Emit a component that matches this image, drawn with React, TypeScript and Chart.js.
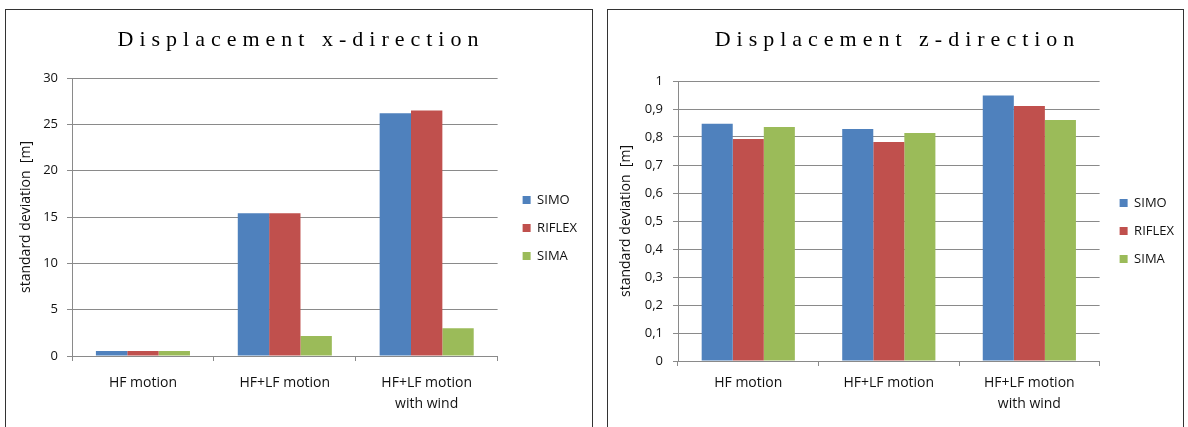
import React, { useEffect, useRef } from 'react';
import { Chart, registerables } from 'chart.js';

Chart.register(...registerables);

// ---------- data ----------
const categories: (string | string[])[] = ['HF motion', 'HF+LF motion', ['HF+LF motion', 'with wind']];
const seriesNames = ['SIMO', 'RIFLEX', 'SIMA'];
const seriesColors = ['#4F81BD', '#C0504D', '#9BBB59'];

const xSimo = [0.55, 15.4, 26.2];
const xRiflex = [0.55, 15.4, 26.5];
const xSima = [0.55, 2.15, 3.0];

const zSimo = [0.847, 0.829, 0.948];
const zRiflex = [0.793, 0.782, 0.911];
const zSima = [0.836, 0.814, 0.861];

const xTickLabels = ['0', '5', '10', '15', '20', '25', '30'];
const zTickLabels = ['0', '0,1', '0,2', '0,3', '0,4', '0,5', '0,6', '0,7', '0,8', '0,9', '1'];

const titleX = 'Displacement x-direction';
const titleZ = 'Displacement z-direction';
const yTitle = 'standard deviation  [m]';

// ---------- styling ----------
const gridColor = '#8a8a8a';
const textColor = '#111111';
const sansFont = '"Open Sans"';

interface Layout {
  width: number;
  height: number;
  padTop: number;
  padBottom: number;
  padRight: number;
  yAxisWidth: number;
  xAxisHeight: number;
  gapRight: number;
  yTitlePad: number;
  yTickPad: number;
  xTickPad: number;
  legendShift: number;
}

function buildConfig(values: number[][], yMax: number, step: number, tickLabels: string[], L: Layout): any {
  return {
    type: 'bar',
    data: {
      labels: categories,
      datasets: values.map((v, i) => ({
        label: seriesNames[i],
        data: v,
        backgroundColor: seriesColors[i],
        borderWidth: 0,
        barPercentage: 1,
        categoryPercentage: 0.663,
        yAxisID: 'y',
      })),
    },
    options: {
      responsive: false,
      animation: false,
      devicePixelRatio: 1,
      layout: { padding: { top: L.padTop, bottom: L.padBottom, left: 0, right: L.padRight } },
      plugins: {
        title: { display: false },
        tooltip: { enabled: false },
        legend: {
          display: true,
          position: 'right',
          align: 'center',
          fullSize: false,
          title: {
            display: true,
            text: ' ',
            font: { family: sansFont, size: 10, lineHeight: L.legendShift / 10 },
            padding: 0,
          },
          labels: {
            boxWidth: 8,
            boxHeight: 8,
            padding: 15,
            color: textColor,
            font: { family: sansFont, size: 13 },
          },
        },
      },
      scales: {
        x: {
          type: 'category',
          grid: {
            display: true,
            drawOnChartArea: false,
            drawTicks: true,
            tickLength: 5,
            color: gridColor,
            offset: true,
          },
          border: { display: true, color: gridColor },
          ticks: {
            color: textColor,
            font: { family: sansFont, size: 14, lineHeight: 1.5 },
            padding: L.xTickPad,
            maxRotation: 0,
            autoSkip: false,
          },
          afterFit: (s: any) => {
            s.height = L.xAxisHeight;
          },
        },
        y: {
          type: 'linear',
          min: 0,
          max: yMax,
          grid: { color: gridColor, tickLength: 5, drawTicks: true },
          border: { display: true, color: gridColor },
          ticks: {
            stepSize: step,
            color: textColor,
            padding: L.yTickPad,
            font: { family: sansFont, size: 13 },
            callback: (_v: any, i: number) => tickLabels[i],
          },
          title: {
            display: true,
            text: yTitle,
            color: textColor,
            font: { family: sansFont, size: 14 },
            padding: { top: L.yTitlePad, bottom: 0 },
          },
          afterFit: (s: any) => {
            s.width = L.yAxisWidth;
          },
        },
        gap: {
          type: 'linear',
          position: 'right',
          display: true,
          grid: { display: false, drawTicks: false },
          border: { display: false },
          ticks: { display: false },
          afterFit: (s: any) => {
            s.width = L.gapRight;
          },
        },
      },
    },
  };
}

function ChartBox(props: {
  left: number;
  top: number;
  width: number;
  title: string;
  values: number[][];
  yMax: number;
  step: number;
  tickLabels: string[];
  layout: Layout;
}) {
  const ref = useRef<HTMLCanvasElement | null>(null);
  useEffect(() => {
    if (!ref.current) return;
    const chart = new Chart(ref.current, buildConfig(props.values, props.yMax, props.step, props.tickLabels, props.layout));
    return () => chart.destroy();
  }, []);
  const L = props.layout;
  return (
    <div
      style={{
        position: 'absolute',
        left: props.left,
        top: props.top,
        width: props.width,
        height: 440,
        border: '1px solid #333',
        boxSizing: 'border-box',
        background: '#fff',
      }}
    >
      <canvas
        ref={ref}
        width={L.width}
        height={L.height}
        style={{ position: 'absolute', left: 0, top: 0, width: L.width, height: L.height }}
      />
      <div
        style={{
          position: 'absolute',
          left: 2,
          top: 15,
          width: '100%',
          textAlign: 'center',
          fontFamily: '"Liberation Serif", serif',
          fontSize: 22,
          lineHeight: '28px',
          letterSpacing: '6px',
          color: '#000',
        }}
      >
        {props.title}
      </div>
    </div>
  );
}

export default function App() {
  const leftLayout: Layout = {
    width: 586,
    height: 420,
    padTop: 68,
    padBottom: 10,
    padRight: 5,
    yAxisWidth: 66,
    xAxisHeight: 64,
    gapRight: 10,
    yTitlePad: 12,
    yTickPad: 9,
    xTickPad: 12,
    legendShift: 22,
  };
  const rightLayout: Layout = {
    width: 575,
    height: 420,
    padTop: 71,
    padBottom: 5,
    padRight: -1,
    yAxisWidth: 70,
    xAxisHeight: 64,
    gapRight: 5,
    yTitlePad: 10,
    yTickPad: 10,
    xTickPad: 7,
    legendShift: 20,
  };
  return (
    <div
      style={{
        position: 'fixed',
        left: 0,
        top: 0,
        width: 1188,
        height: 427,
        overflow: 'hidden',
        background: '#fff',
      }}
    >
      <ChartBox
        left={5}
        top={9}
        width={588}
        title={titleX}
        values={[xSimo, xRiflex, xSima]}
        yMax={30}
        step={5}
        tickLabels={xTickLabels}
        layout={leftLayout}
      />
      <ChartBox
        left={607}
        top={9}
        width={577}
        title={titleZ}
        values={[zSimo, zRiflex, zSima]}
        yMax={1}
        step={0.1}
        tickLabels={zTickLabels}
        layout={rightLayout}
      />
    </div>
  );
}
